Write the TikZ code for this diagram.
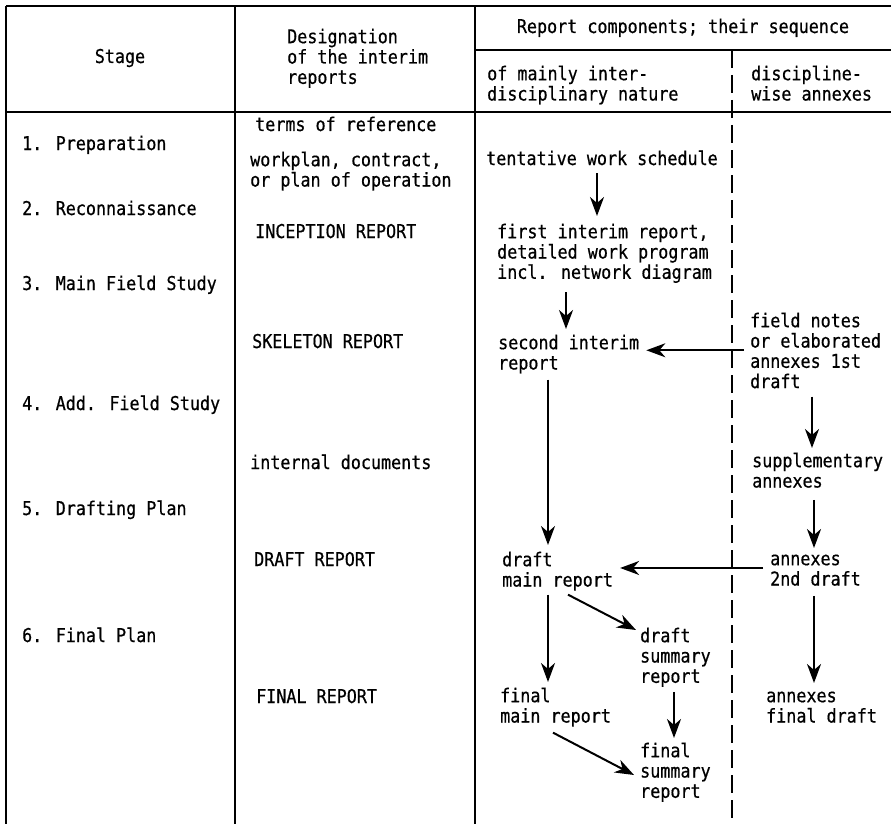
\documentclass[tikz,border=0pt]{standalone}
\usepackage{fontspec}
\newfontfamily\tw{DejaVu Sans Mono}[FakeStretch=0.88,FakeBold=0.6]
\usetikzlibrary{arrows.meta}
\newcommand{\fs}{\rule{0pt}{15pt}}
\begin{document}
\begin{tikzpicture}[x=1pt,y=-1pt,
  txt/.style={inner sep=0pt,font=\tw\fontsize{19}{20.3}\selectfont,align=left},
  tl/.style={txt,anchor=north west},
  tb/.style={txt,anchor=base west},
  rule/.style={line width=1.8pt},
  dashrule/.style={line width=1.8pt,dash pattern=on 18pt off 7pt},
  arr/.style={line width=2pt,-{Stealth[length=19pt,width=14pt,inset=6pt]}}]
\useasboundingbox (0,0) rectangle (891,824);
% table lines
\draw[rule] (6,6) -- (891,6);
\draw[rule] (6,6) -- (6,824);
\draw[rule] (235,6) -- (235,824);
\draw[rule] (475,6) -- (475,824);
\draw[rule] (475,50) -- (891,50);
\draw[rule] (6,112) -- (891,112);
\draw[dashrule] (732,50) -- (732,824);
% header
\node[txt,anchor=base] (hstage) at (120,63) {Stage};
\node[tl] (hdes) at (287,28) {\fs Designation\\of the interim\\reports};
\node[txt,anchor=base] (hrc) at (683,33) {Report components; their sequence};
\node[tl] (hinter) at (487,65) {\fs of mainly inter-\\disciplinary nature};
\node[tl] (hdisc) at (751,65) {\fs discipline-\\wise annexes};
% stages
\node[tb] (s1) at (22,150) {1. Preparation};
\node[tb] (s2) at (22,215) {2. Reconnaissance};
\node[tb] (s3) at (22,290) {3. Main Field Study};
\node[tb] (s4) at (22,410) {4. Add. Field Study};
\node[tb] (s5) at (22,515) {5. Drafting Plan};
\node[tb] (s6) at (22,642) {6. Final Plan};
% designations
\node[tb] (d0) at (255,131) {terms of reference};
\node[tl] (d1) at (250,151) {\fs workplan, contract,\\or plan of operation};
\node[tb] (d2) at (255,238) {INCEPTION REPORT};
\node[tb] (d3) at (252,348) {SKELETON REPORT};
\node[tb] (d4) at (250,469) {internal documents};
\node[tb] (d5) at (254,566) {DRAFT REPORT};
\node[tb] (d6) at (256,703) {FINAL REPORT};
% interdisciplinary column
\node[txt,anchor=base] (tent) at (602,165) {tentative work schedule};
\node[tl] (fi) at (497,223) {\fs first interim report,\\detailed work program\\incl. network diagram};
\node[tl] (si) at (498,334) {\fs second interim\\report};
\node[tl] (dmr) at (502,551) {\fs draft\\main report};
\node[tl] (dsr) at (640,627) {\fs draft\\summary\\report};
\node[tl] (fmr) at (500,687) {\fs final\\main report};
\node[tl] (fsr) at (640,742) {\fs final\\summary\\report};
% annex column
\node[tl] (fn) at (750,312) {\fs field notes\\or elaborated\\annexes 1st\\draft};
\node[tl] (sa) at (752,452) {\fs supplementary\\annexes};
\node[tl] (a2d) at (770,550) {\fs annexes\\2nd draft};
\node[tl] (afd) at (766,687) {\fs annexes\\final draft};
% arrows
\draw[arr,shorten <=8pt,shorten >=7pt] ([xshift=-5pt]tent.south) -- ([xshift=-5pt]tent.south |- fi.north);
\draw[arr,shorten <=9pt,shorten >=5pt] ([xshift=69pt]fi.south west) -- ([xshift=68pt]si.north west);
\draw[arr,shorten <=6pt,shorten >=7pt] (fn.west) -- (fn.west -| si.east);
\draw[arr,shorten <=6pt,shorten >=6pt] ([xshift=50pt]si.south west) -- ([xshift=46pt]dmr.north west);
\draw[arr,shorten <=7pt,shorten >=7pt] (a2d.west) -- (a2d.west -| dmr.east);
\draw[arr,shorten <=4pt,shorten >=5pt] ([xshift=46pt]dmr.south west) -- ([xshift=48pt]fmr.north west);
\draw[arr] ([xshift=66pt,yshift=-4pt]dmr.south west) -- ([xshift=-4pt,yshift=-3pt]dsr.north west);
\draw[arr,shorten <=5pt,shorten >=4pt] ([xshift=34pt]dsr.south west) -- ([xshift=34pt]fsr.north west);
\draw[arr] ([xshift=53pt,yshift=-6pt]fmr.south west) -- ([xshift=-6pt,yshift=-33pt]fsr.north west);
\draw[arr,shorten <=8pt,shorten >=4pt] ([xshift=62pt]fn.south west) -- ([xshift=60pt]sa.north west);
\draw[arr,shorten <=12pt,shorten >=2pt] ([xshift=62pt]sa.south west) -- ([xshift=44pt]a2d.north west);
\draw[arr,shorten <=10pt,shorten >=4pt] ([xshift=44pt]a2d.south west) -- ([xshift=48pt]afd.north west);
\end{tikzpicture}
\end{document}
